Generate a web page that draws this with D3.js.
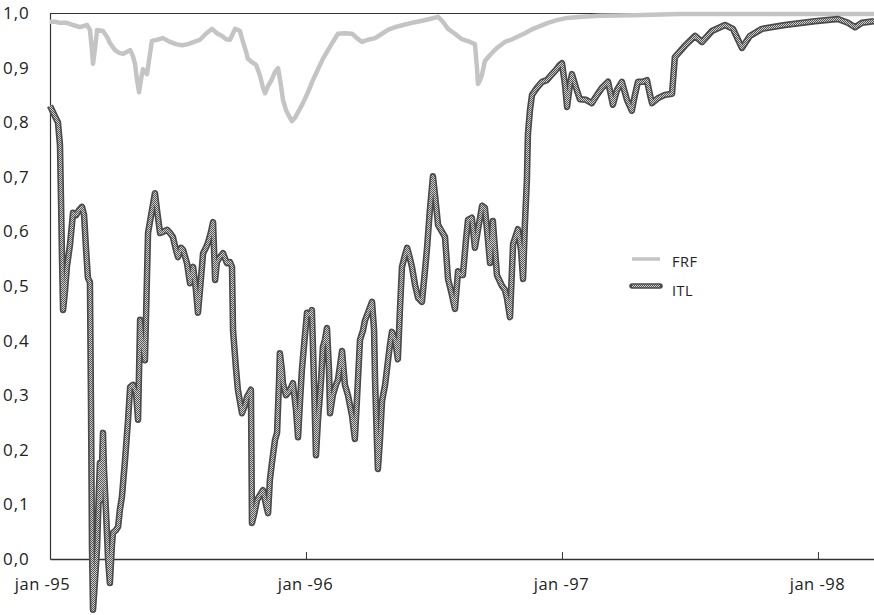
<!DOCTYPE html>
<html>
<head>
  <meta charset="utf-8">
  <title>FRF / ITL</title>
  <style type="text/css">
    body { margin: 0; background: #fff; }
    svg text { font-family: "Open Sans", "DejaVu Sans", sans-serif; fill: #222; }
    .axis path, .axis line { stroke: #333; }
  </style>
</head>
<body>
  <div id="chart"></div>
  <script src="https://cdnjs.cloudflare.com/ajax/libs/d3/7.8.5/d3.min.js"></script>
  <script type="text/javascript">
  // time is in years after jan 1995
  var yTicks = [0, 0.1, 0.2, 0.3, 0.4, 0.5, 0.6, 0.7, 0.8, 0.9, 1.0];
  var xTicks = [0, 1, 2, 3];
  var xTickLabels = ['jan -95', 'jan -96', 'jan -97', 'jan -98'];
  var seriesNames = ['FRF', 'ITL'];
  var endTime = 3.219;

  var frf = [
    [0, .984], [.020, .984], [.039, .982], [.066, .982], [.090, .978], [.117, .974],
    [.145, .978], [.156, .969], [.164, .932], [.168, .907], [.176, .936], [.184, .969],
    [.207, .967], [.223, .956], [.234, .945], [.254, .932], [.270, .927], [.285, .925],
    [.301, .929], [.313, .932], [.324, .921], [.332, .907], [.340, .877], [.348, .855],
    [.355, .877], [.363, .897], [.371, .892], [.379, .888], [.387, .914], [.398, .949],
    [.418, .951], [.441, .954], [.469, .947], [.492, .943], [.516, .941], [.539, .943],
    [.563, .947], [.586, .951], [.609, .962], [.633, .971], [.652, .963], [.672, .958],
    [.688, .952], [.703, .951], [.715, .963], [.723, .971], [.734, .969], [.742, .967],
    [.754, .947], [.766, .929], [.773, .916], [.789, .910], [.805, .905], [.820, .886],
    [.832, .863], [.840, .853], [.852, .866], [.867, .879], [.879, .892], [.891, .899],
    [.902, .868], [.910, .841], [.922, .822], [.934, .811], [.945, .802], [.957, .808],
    [.973, .822], [.988, .835], [1.008, .855], [1.027, .877], [1.047, .897], [1.066, .916],
    [1.086, .932], [1.105, .947], [1.125, .962], [1.152, .963], [1.180, .962], [1.199, .954],
    [1.219, .947], [1.242, .951], [1.270, .954], [1.297, .962], [1.320, .969], [1.348, .974],
    [1.379, .978], [1.414, .982], [1.445, .985], [1.484, .989], [1.516, .993], [1.535, .984],
    [1.555, .971], [1.582, .962], [1.609, .952], [1.641, .947], [1.660, .943], [1.668, .899],
    [1.672, .870], [1.680, .877], [1.688, .888], [1.699, .912], [1.719, .923], [1.746, .936],
    [1.777, .947], [1.801, .951], [1.824, .956], [1.855, .963], [1.887, .971], [1.914, .976],
    [1.945, .982], [1.980, .987], [2.020, .991], [2.078, .993], [2.148, .995], [2.277, .996],
    [2.461, .998], [2.734, .998], [3.219, .998]
  ];

  var itl = [
    [0, .830], [.008, .822], [.020, .810], [.031, .800], [.039, .758], [.043, .658],
    [.047, .548], [.051, .456], [.059, .493], [.066, .535], [.078, .575], [.090, .634],
    [.102, .630], [.113, .639], [.125, .645], [.133, .630], [.141, .566], [.148, .515],
    [.156, .507], [.160, .291], [.164, .022], [.168, -.093], [.176, -.038], [.184, .022],
    [.191, .126], [.195, .176], [.199, .108], [.207, .231], [.211, .163], [.219, .084],
    [.227, -.002], [.234, -.044], [.242, .026], [.246, .048], [.258, .053], [.266, .059],
    [.273, .090], [.281, .114], [.293, .181], [.305, .255], [.313, .315], [.324, .319],
    [.336, .304], [.344, .255], [.352, .438], [.359, .401], [.371, .364], [.383, .597],
    [.395, .630], [.410, .670], [.418, .639], [.430, .597], [.441, .599], [.457, .603],
    [.469, .597], [.480, .590], [.492, .566], [.500, .553], [.512, .570], [.520, .566],
    [.535, .542], [.547, .505], [.559, .535], [.570, .493], [.578, .451], [.586, .493],
    [.598, .560], [.609, .570], [.617, .579], [.629, .599], [.637, .617], [.645, .511],
    [.652, .544], [.664, .553], [.676, .560], [.691, .542], [.703, .544], [.711, .535],
    [.715, .419], [.727, .346], [.734, .310], [.750, .267], [.762, .282], [.770, .297],
    [.785, .310], [.789, .066], [.797, .081], [.809, .108], [.820, .117], [.832, .126],
    [.844, .099], [.852, .084], [.859, .145], [.867, .176], [.879, .218], [.887, .231],
    [.895, .328], [.898, .377], [.906, .346], [.910, .322], [.922, .300], [.938, .310],
    [.949, .322], [.961, .273], [.969, .223], [.977, .291], [.984, .346], [.996, .410],
    [1.004, .451], [1.016, .447], [1.023, .456], [1.031, .328], [1.039, .190], [1.047, .255],
    [1.059, .328], [1.066, .388], [1.074, .401], [1.082, .423], [1.090, .346], [1.094, .267],
    [1.105, .300], [1.117, .319], [1.125, .328], [1.141, .381], [1.152, .319], [1.164, .300],
    [1.180, .262], [1.191, .220], [1.199, .291], [1.211, .401], [1.223, .419], [1.230, .436],
    [1.246, .456], [1.258, .471], [1.266, .419], [1.270, .324], [1.277, .218], [1.281, .165],
    [1.289, .218], [1.297, .289], [1.309, .319], [1.316, .346], [1.328, .392], [1.336, .416],
    [1.348, .401], [1.359, .366], [1.367, .456], [1.375, .535], [1.387, .557], [1.395, .570],
    [1.406, .551], [1.414, .535], [1.426, .502], [1.438, .478], [1.453, .471], [1.465, .529],
    [1.473, .570], [1.484, .639], [1.496, .701], [1.504, .667], [1.516, .612], [1.527, .603],
    [1.543, .590], [1.555, .513], [1.570, .484], [1.582, .458], [1.594, .527], [1.605, .520],
    [1.613, .520], [1.625, .584], [1.633, .621], [1.648, .625], [1.660, .570], [1.672, .603],
    [1.688, .647], [1.699, .643], [1.711, .584], [1.719, .542], [1.730, .619], [1.746, .520],
    [1.766, .500], [1.777, .493], [1.785, .478], [1.797, .443], [1.809, .577], [1.820, .593],
    [1.828, .604], [1.840, .566], [1.848, .513], [1.855, .612], [1.863, .694], [1.867, .778],
    [1.875, .822], [1.883, .850], [1.902, .863], [1.922, .874], [1.941, .877], [1.961, .888],
    [1.977, .896], [1.992, .905], [2.000, .908], [2.012, .868], [2.020, .828], [2.031, .868],
    [2.039, .888], [2.055, .863], [2.070, .842], [2.094, .841], [2.117, .835], [2.137, .850],
    [2.156, .863], [2.180, .874], [2.191, .850], [2.199, .832], [2.215, .859], [2.234, .874],
    [2.254, .841], [2.273, .821], [2.285, .850], [2.297, .874], [2.316, .874], [2.332, .877],
    [2.344, .850], [2.352, .835], [2.375, .844], [2.402, .850], [2.430, .852], [2.441, .919],
    [2.480, .940], [2.520, .958], [2.547, .947], [2.586, .967], [2.637, .978], [2.668, .971],
    [2.703, .936], [2.734, .958], [2.781, .971], [2.871, .978], [2.988, .985], [3.078, .989],
    [3.117, .982], [3.145, .974], [3.172, .982], [3.219, .985]
  ];

  var cfg = { w: 874, h: 615, left: 50, right: 874, top: 13, bottom: 559 };

  var svg = d3.select('#chart').append('svg')
    .attr('width', cfg.w)
    .attr('height', cfg.h);

  var defs = svg.append('defs');
  var dither = defs.append('pattern')
    .attr('id', 'dither')
    .attr('patternUnits', 'userSpaceOnUse')
    .attr('width', 2).attr('height', 2);
  dither.append('rect').attr('width', 2).attr('height', 2).attr('fill', '#d0d0d0');
  dither.append('rect').attr('width', 1).attr('height', 1).attr('fill', '#555');
  dither.append('rect').attr('x', 1).attr('y', 1).attr('width', 1).attr('height', 1).attr('fill', '#555');

  var xSc = d3.scaleLinear().domain([0, endTime]).range([cfg.left, cfg.right]);
  var ySc = d3.scaleLinear().domain([0, 1]).range([cfg.bottom, cfg.top]);

  // frame: top border and axes
  svg.append('line')
    .attr('x1', cfg.left).attr('x2', cfg.right)
    .attr('y1', cfg.top + 0.5).attr('y2', cfg.top + 0.5)
    .attr('stroke', '#333').attr('stroke-width', 1.2);

  var yAxis = d3.axisLeft(ySc)
    .tickValues(yTicks)
    .tickSize(0)
    .tickFormat(function(d) { return d3.format('.1f')(d).replace('.', ','); });

  var gy = svg.append('g')
    .attr('class', 'axis')
    .attr('transform', 'translate(' + cfg.left + ',0)')
    .call(yAxis);
  gy.select('.domain').attr('stroke-width', 1.2);
  gy.selectAll('text')
    .attr('x', -47)
    .attr('text-anchor', 'start')
    .style('font-size', '17px')
    .style('letter-spacing', '1px');

  var xAxis = d3.axisBottom(xSc)
    .tickValues(xTicks)
    .tickSizeInner(-7)
    .tickSizeOuter(0)
    .tickPadding(0)
    .tickFormat(function(d, i) { return xTickLabels[i]; });

  var gx = svg.append('g')
    .attr('class', 'axis')
    .attr('transform', 'translate(0,' + cfg.bottom + ')')
    .call(xAxis);
  gx.select('.domain').attr('stroke-width', 1.4);
  gx.selectAll('text')
    .attr('y', 31)
    .attr('dy', 0)
    .attr('dx', function(d, i) { return i === 0 ? -8 : -1; })
    .style('font-size', '16.5px')
    .style('letter-spacing', '0.5px');

  var line = d3.line()
    .x(function(d) { return xSc(d[0]); })
    .y(function(d) { return ySc(d[1]); });

  // FRF (light)
  svg.append('path')
    .datum(frf)
    .attr('d', line)
    .attr('fill', 'none')
    .attr('stroke', '#c4c4c4')
    .attr('stroke-width', 4.5)
    .attr('stroke-linejoin', 'round');

  // ITL (dark, outlined)
  svg.append('path')
    .datum(itl)
    .attr('d', line)
    .attr('fill', 'none')
    .attr('stroke', '#4a4a4a')
    .attr('stroke-width', 6.5)
    .attr('stroke-linejoin', 'round');
  svg.append('path')
    .datum(itl)
    .attr('d', line)
    .attr('fill', 'none')
    .attr('stroke', 'url(#dither)')
    .attr('stroke-width', 3.2)
    .attr('stroke-linejoin', 'round');

  // legend
  var legend = svg.append('g').attr('transform', 'translate(632,259)');
  legend.append('line')
    .attr('x1', 0).attr('x2', 28).attr('y1', 0).attr('y2', 0)
    .attr('stroke', '#c4c4c4').attr('stroke-width', 3.5);
  legend.append('line')
    .attr('x1', 0).attr('x2', 28).attr('y1', 27).attr('y2', 27)
    .attr('stroke', '#4a4a4a').attr('stroke-width', 5.5).attr('stroke-linecap', 'round');
  legend.append('line')
    .attr('x1', 0).attr('x2', 28).attr('y1', 27).attr('y2', 27)
    .attr('stroke', 'url(#dither)').attr('stroke-width', 2.5);
  legend.selectAll('text.lbl')
    .data(seriesNames)
    .enter()
    .append('text')
    .attr('class', 'lbl')
    .attr('x', 40)
    .attr('y', function(d, i) { return i * 29 + 3; })
    .attr('dy', '0.32em')
    .style('font-size', '14.5px')
    .style('letter-spacing', '0.5px')
    .text(function(d) { return d; });
  </script>
</body>
</html>
